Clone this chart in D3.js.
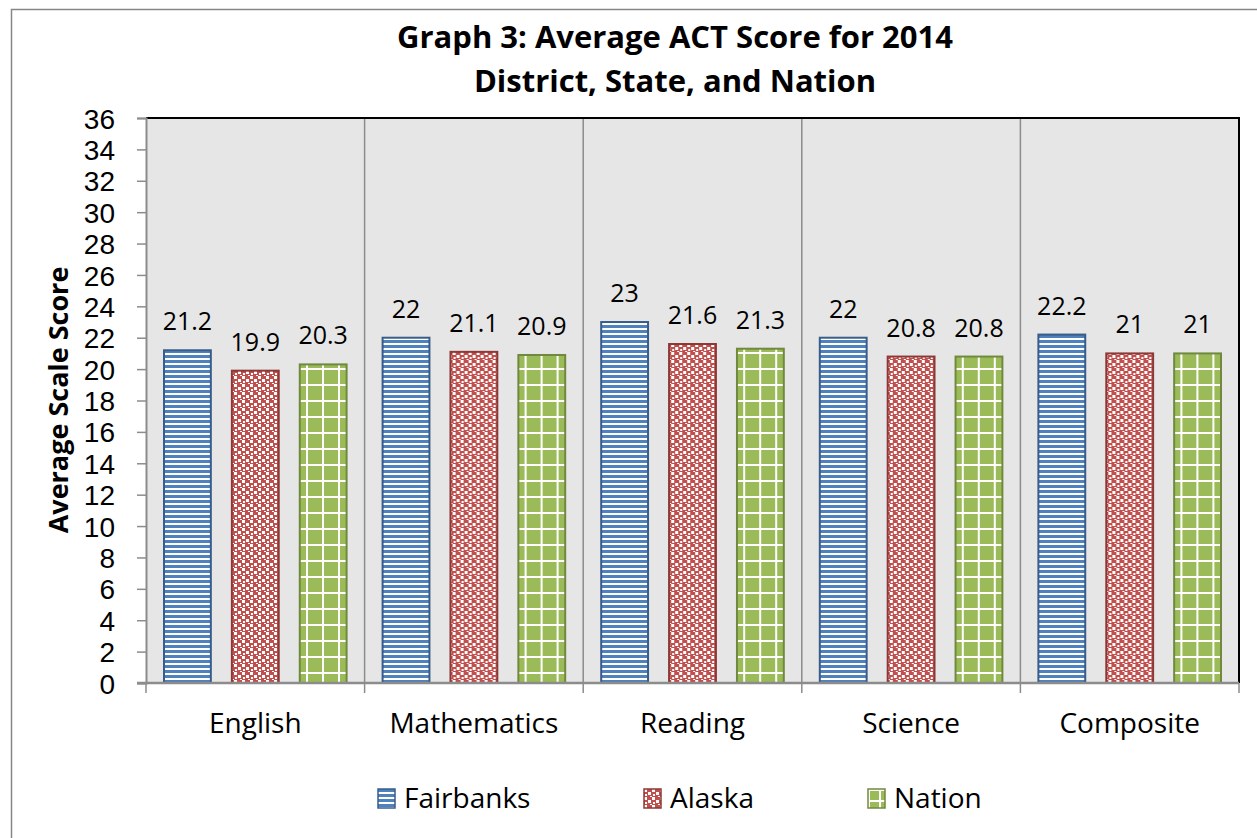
<!DOCTYPE html>
<html>
<head>
<meta charset="utf-8">
<script src="https://cdn.jsdelivr.net/npm/d3@7"></script>
<style>
  html, body { margin: 0; padding: 0; background: #fff; overflow: hidden; }
  svg { display: block; font-family: "Open Sans", sans-serif; }
</style>
</head>
<body>
<svg id="chart" width="1257" height="838"></svg>
<script>
// Данные графика
const subjects = ['English', 'Mathematics', 'Reading', 'Science', 'Composite'];
const seriesNames = ['Fairbanks', 'Alaska', 'Nation'];
const fairbanks = [21.2, 22, 23, 22, 22.2];
const alaska = [19.9, 21.1, 21.6, 20.8, 21];
const nation = [20.3, 20.9, 21.3, 20.8, 21];
const yTicks = d3.range(0, 37, 2);

const values = [fairbanks, alaska, nation];
const fills = ['#4f81bd', '#c0504d', '#9bbb59'];
const strokes = ['#385d8a', '#8c3836', '#71893f'];

const plot = { left: 146, right: 1239, top: 118, bottom: 683 };

const svg = d3.select('#chart');
const defs = svg.append('defs');

// Узоры заливки столбцов
function stripes(id, color) {
    const p = defs.append('pattern').attr('id', id)
        .attr('patternUnits', 'userSpaceOnUse').attr('width', 8).attr('height', 5);
    p.append('rect').attr('width', 8).attr('height', 5).attr('fill', '#fff');
    p.append('rect').attr('width', 8).attr('height', 3).attr('fill', color);
}
function confetti(id, color) {
    const p = defs.append('pattern').attr('id', id)
        .attr('patternUnits', 'userSpaceOnUse').attr('width', 8).attr('height', 8);
    p.append('rect').attr('width', 8).attr('height', 8).attr('fill', color);
    [[0, 0, 3], [4, 3, 3], [1, 5, 2], [6, 7, 2]].forEach(([x, y, s]) => {
        p.append('rect').attr('x', x).attr('y', y).attr('width', s).attr('height', s).attr('fill', '#fff');
    });
}
function grid(id, color, size) {
    const p = defs.append('pattern').attr('id', id)
        .attr('patternUnits', 'userSpaceOnUse').attr('width', size).attr('height', size);
    p.append('rect').attr('width', size).attr('height', size).attr('fill', '#fff');
    p.append('rect').attr('x', 2).attr('y', 2).attr('width', size - 2).attr('height', size - 2).attr('fill', color);
}
stripes('pat-0', fills[0]);
confetti('pat-1', fills[1]);
grid('pat-2', fills[2], 16);
grid('pat-2s', fills[2], 11);

// Рамка области диаграммы
svg.append('rect')
    .attr('x', 11.5).attr('y', 9.5).attr('width', 1400).attr('height', 1000)
    .attr('fill', '#fff').attr('stroke', '#868686').attr('stroke-width', 1.5);

// Шкалы
const x0 = d3.scaleBand().domain(subjects).range([plot.left, plot.right]);
const x1 = d3.scaleBand().domain(seriesNames)
    .range([18, x0.bandwidth() - 18]).paddingInner(0.31).paddingOuter(0);
const y = d3.scaleLinear().domain([0, 36]).range([plot.bottom, plot.top]);

// Фон области построения
svg.append('rect')
    .attr('x', plot.left).attr('y', plot.top)
    .attr('width', plot.right - plot.left).attr('height', plot.bottom - plot.top)
    .attr('fill', '#e6e6e6');

// Вертикальные линии сетки
svg.append('g').selectAll('line')
    .data(subjects.slice(1))
    .join('line')
    .attr('x1', d => x0(d)).attr('x2', d => x0(d))
    .attr('y1', plot.top).attr('y2', plot.bottom)
    .attr('stroke', '#8c8c8c').attr('stroke-width', 1.5);

// Рамка области построения (верх и право)
svg.append('path')
    .attr('d', `M${plot.left},${plot.top}H${plot.right}V${plot.bottom}`)
    .attr('fill', 'none').attr('stroke', '#000').attr('stroke-width', 2);

// Столбцы
const groups = svg.append('g').selectAll('g')
    .data(subjects)
    .join('g')
    .attr('transform', d => `translate(${x0(d)},0)`);

groups.selectAll('rect')
    .data((d, i) => seriesNames.map((s, k) => ({ s, k, v: values[k][i] })))
    .join('rect')
    .attr('x', d => x1(d.s))
    .attr('y', d => y(d.v))
    .attr('width', x1.bandwidth())
    .attr('height', d => y(0) - y(d.v))
    .attr('fill', d => `url(#pat-${d.k})`)
    .attr('stroke', d => strokes[d.k])
    .attr('stroke-width', 2);

// Подписи значений
groups.selectAll('text')
    .data((d, i) => seriesNames.map((s, k) => ({ s, k, v: values[k][i] })))
    .join('text')
    .attr('x', d => x1(d.s) + x1.bandwidth() / 2)
    .attr('y', d => y(d.v) - 20)
    .attr('text-anchor', 'middle')
    .style('font-size', '25px')
    .attr('fill', '#000')
    .text(d => d.v);

// Ось Y
const yAxis = svg.append('g')
    .attr('transform', `translate(${plot.left},0)`)
    .call(d3.axisLeft(y).tickValues(yTicks).tickSize(9).tickPadding(22));
yAxis.select('.domain').attr('stroke', '#8c8c8c').attr('stroke-width', 2);
yAxis.selectAll('.tick line').attr('stroke', '#8c8c8c').attr('stroke-width', 1.5);
yAxis.selectAll('.tick text')
    .style('font-size', '28px').style('font-family', '"Liberation Sans", Arial, sans-serif')
    .attr('fill', '#000').attr('dy', '0.36em');

// Ось X
const xAxis = svg.append('g')
    .attr('transform', `translate(0,${plot.bottom})`);
xAxis.append('line')
    .attr('x1', plot.left - 9).attr('x2', plot.right)
    .attr('stroke', '#8c8c8c').attr('stroke-width', 2.5);
xAxis.selectAll('.xtick')
    .data(d3.range(subjects.length + 1))
    .join('line')
    .attr('class', 'xtick')
    .attr('x1', i => plot.left + i * x0.step()).attr('x2', i => plot.left + i * x0.step())
    .attr('y1', 0).attr('y2', 10)
    .attr('stroke', '#8c8c8c').attr('stroke-width', 1.5);
xAxis.selectAll('text')
    .data(subjects)
    .join('text')
    .attr('x', d => x0(d) + x0.bandwidth() / 2)
    .attr('y', 50)
    .attr('text-anchor', 'middle')
    .style('font-size', '28px')
    .text(d => d);

// Заголовок оси Y
svg.append('text')
    .attr('transform', 'translate(68,400) rotate(-90)')
    .attr('text-anchor', 'middle')
    .style('font-size', '27px').style('font-weight', 'bold')
    .text('Average Scale Score');

// Заголовок
const title = svg.append('text')
    .attr('text-anchor', 'middle')
    .style('font-size', '31px').style('font-weight', 'bold');
title.append('tspan').attr('x', 675).attr('y', 48).text('Graph 3: Average ACT Score for 2014');
title.append('tspan').attr('x', 675).attr('y', 92).text('District, State, and Nation');

// Легенда
const legendX = [378, 644, 868];
const legend = svg.append('g').selectAll('g')
    .data(seriesNames)
    .join('g')
    .attr('transform', (d, i) => `translate(${legendX[i]},789)`);
legend.append('rect')
    .attr('width', 17).attr('height', 19)
    .attr('fill', (d, i) => i === 2 ? 'url(#pat-2s)' : `url(#pat-${i})`)
    .attr('stroke', (d, i) => strokes[i]).attr('stroke-width', 1.5);
legend.append('text')
    .attr('x', 26).attr('y', 19)
    .style('font-size', '28px')
    .text(d => d);
</script>
</body>
</html>
